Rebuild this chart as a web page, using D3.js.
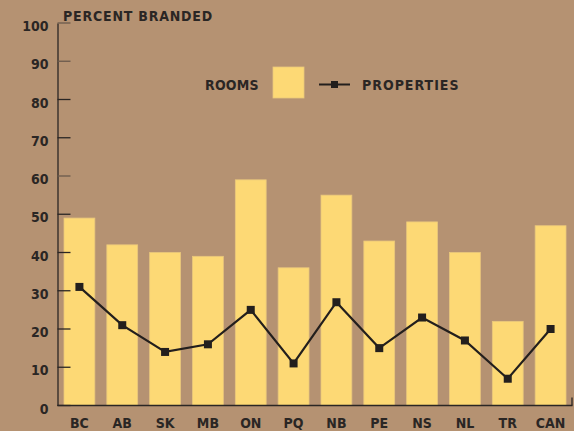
<!DOCTYPE html>
<html><head><meta charset="utf-8">
<script src="https://cdn.jsdelivr.net/npm/d3@7"></script>
<style>
html,body{margin:0;padding:0;background:#b59272;}
svg{display:block;}
text{font-family:"DejaVu Sans Condensed","DejaVu Sans",sans-serif;font-weight:bold;fill:#2a2624;}
</style></head>
<body>
<svg id="c" width="574" height="431"></svg>
<script>
const categories = ["BC","AB","SK","MB","ON","PQ","NB","PE","NS","NL","TR","CAN"];
const rooms = [49,42,40,39,59,36,55,43,48,40,22,47];
const properties = [31,21,14,16,25,11,27,15,23,17,7,20];
const yTicks = [0,10,20,30,40,50,60,70,80,90,100];

const svg = d3.select("#c");
const bg = "#b59272", barCol = "#fdd975", ink = "#2a2624";
svg.append("rect").attr("width",574).attr("height",431).attr("fill",bg);

const x0 = 57.5, x1 = 572.5;
const y = d3.scaleLinear().domain([0,100]).range([405.5,23]);
const x = d3.scaleBand().domain(categories).range([x0+0.5, x1-0.5]).paddingInner(0.28).paddingOuter(0.14);

// bars
svg.append("g").selectAll("rect").data(categories).join("rect")
  .attr("x", d=>x(d)).attr("width", x.bandwidth())
  .attr("y", (d,i)=>y(rooms[i])).attr("height",(d,i)=>y(0)-y(rooms[i]))
  .attr("fill", barCol).attr("stroke","#e9c77c").attr("stroke-width",0.8);

// y axis
const yAxis = d3.axisLeft(y).tickValues(yTicks).tickSize(0).tickPadding(9);
const gy = svg.append("g").attr("transform",`translate(${x0},0)`).call(yAxis);
gy.select(".domain").attr("stroke",ink).attr("stroke-width",1.3);
gy.selectAll("text").attr("font-size",14).attr("fill",ink).attr("dy","0.55em");
svg.append("g").selectAll("line").data(yTicks).join("line")
  .attr("x1",x0).attr("x2",x0+13).attr("y1",d=>y(d)).attr("y2",d=>y(d))
  .attr("stroke",(d,i)=> (d===100||d===60||d===90)?"#6a5a4c":ink).attr("stroke-width",1.3);

// x axis
const xAxis = d3.axisBottom(x).tickSize(0).tickPadding(12.5);
const gx = svg.append("g").attr("transform",`translate(0,${y(0)})`).call(xAxis);
gx.select(".domain").remove();
gx.selectAll("text").attr("font-size",14).attr("fill",ink);
svg.append("line").attr("x1",x0).attr("x2",x1).attr("y1",y(0)).attr("y2",y(0)).attr("stroke",ink).attr("stroke-width",1.3);
svg.append("line").attr("x1",x1-0.5).attr("x2",x1-0.5).attr("y1",y(0)).attr("y2",y(0)-8).attr("stroke",ink).attr("stroke-width",1.3);

// line
const cx = d=>x(d)+x.bandwidth()/2;
const line = d3.line().x((d,i)=>cx(categories[i])).y(d=>y(d));
svg.append("path").datum(properties).attr("d",line).attr("fill","none").attr("stroke","#231f1d").attr("stroke-width",2.2);
svg.append("g").selectAll("rect").data(properties).join("rect")
  .attr("x",(d,i)=>cx(categories[i])-4).attr("y",d=>y(d)-4).attr("width",8).attr("height",8).attr("fill","#231f1d");

// title
svg.append("text").attr("x",63).attr("y",21).attr("font-size",14).attr("letter-spacing",0.8).text("PERCENT BRANDED");

// legend
svg.append("text").attr("x",205).attr("y",89.5).attr("font-size",14).attr("letter-spacing",0.2).text("ROOMS");
svg.append("rect").attr("x",273).attr("y",67).attr("width",31).attr("height",31).attr("fill",barCol).attr("stroke","#e9c77c").attr("stroke-width",0.8);
svg.append("line").attr("x1",319).attr("x2",350).attr("y1",84.5).attr("y2",84.5).attr("stroke","#231f1d").attr("stroke-width",2);
svg.append("rect").attr("x",331).attr("y",81).attr("width",7).attr("height",7).attr("fill","#231f1d");
svg.append("text").attr("x",362).attr("y",89.5).attr("font-size",14).attr("letter-spacing",1).text("PROPERTIES");
</script>
</body></html>
